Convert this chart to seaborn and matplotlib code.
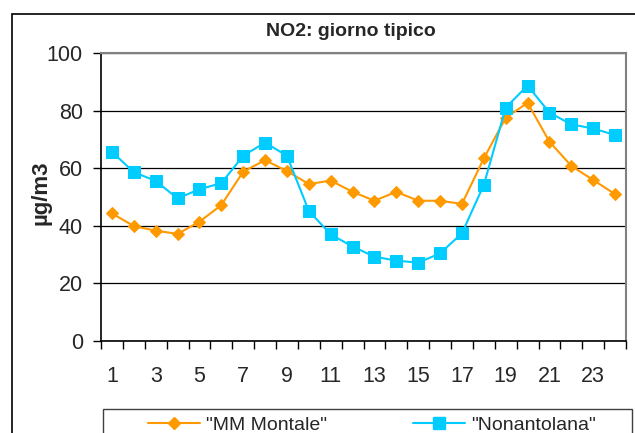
import matplotlib
matplotlib.use("Agg")
import matplotlib.pyplot as plt
import seaborn as sns
import pandas as pd
from matplotlib.patches import Rectangle
from matplotlib.lines import Line2D

hours = list(range(1, 25))
montale = [44.3, 39.9, 38.3, 37.2, 41.4, 47.2, 58.8, 62.8, 59.0, 54.5, 55.7, 51.8,
           48.7, 51.8, 48.7, 48.7, 47.6, 63.4, 77.5, 82.7, 69.2, 60.8, 55.9, 51.0]
nonantolana = [65.7, 58.6, 55.6, 49.5, 52.7, 54.8, 64.3, 68.9, 64.3, 45.2, 37.0, 32.8,
               29.3, 27.9, 27.2, 30.4, 37.4, 54.2, 81.0, 88.7, 79.3, 75.2, 73.8, 71.5]
series_names = ['"MM Montale"', '"Nonantolana"']
title = "NO2: giorno tipico"
ylabel = "µg/m3"
yticks = [0, 20, 40, 60, 80, 100]
xlabels = [str(h) for h in hours if h % 2 == 1]

sns.set_style("white")
plt.rcParams['font.family'] = ['Liberation Sans', 'DejaVu Sans']

df = pd.DataFrame({"hour": hours * 2,
                   "value": montale + nonantolana,
                   "series": [series_names[0]] * 24 + [series_names[1]] * 24})

fig = plt.figure(figsize=(6.35, 4.33), dpi=100)
ax = fig.add_axes([101/635, 1-341/433, (626-101)/635, (341-53)/433])

orange = "#FF9900"
blue = "#00CCFF"

sns.lineplot(data=df[df.series == series_names[0]], x="hour", y="value", ax=ax,
             color=orange, marker="D", markersize=6.5, markeredgecolor=orange,
             linewidth=1.5, legend=False)
sns.lineplot(data=df[df.series == series_names[1]], x="hour", y="value", ax=ax,
             color=blue, marker="s", markersize=8, markeredgecolor=blue,
             linewidth=1.5, legend=False)

ax.set_xlim(0.5, 24.5)
ax.set_ylim(0, 100)
ax.set_yticks(yticks)
ax.set_yticklabels([str(t) for t in yticks], fontsize=15.5)
ax.yaxis.grid(True, color="black", linewidth=0.9)
ax.xaxis.grid(False)
ax.set_axisbelow(True)

ax.set_xticks([h for h in hours if h % 2 == 1])
ax.set_xticklabels(xlabels, fontsize=15.5)
ax.set_xticks([h + 0.5 for h in range(0, 25)], minor=True)
ax.tick_params(axis="x", which="major", length=0, pad=18)
ax.tick_params(axis="x", which="minor", length=6, width=1, color="black", direction="out", bottom=True)
ax.tick_params(axis="y", which="major", length=6, width=1, color="black", direction="out", left=True, pad=7)

ax.set_xlabel("")
ax.set_ylabel("")

for side in ["left", "bottom"]:
    ax.spines[side].set_color("black")
    ax.spines[side].set_linewidth(1.2)
for side in ["top", "right"]:
    ax.spines[side].set_visible(True)
    ax.spines[side].set_color("#808080")
    ax.spines[side].set_linewidth(1.5)

fig.text(351/635, 1-32/433, title, ha="center", va="center", fontsize=14, fontweight="bold")
fig.text(41/635, 1-193/433, ylabel, ha="center", va="center", rotation=90, fontsize=16, fontweight="bold")

# outer chart border
fig.patches.append(Rectangle((12/635, -0.1), 1.2, 1-14/433+0.1, transform=fig.transFigure,
                             fill=False, edgecolor="black", linewidth=1.2))

# legend box
fig.patches.append(Rectangle((103/635, -0.1), (632-103)/635, 1-409/433+0.1, transform=fig.transFigure,
                             fill=False, edgecolor="#404040", linewidth=1.0))

handles = [Line2D([], [], color=orange, marker="D", markersize=6.5, linewidth=1.5),
           Line2D([], [], color=blue, marker="s", markersize=8, linewidth=1.5)]
leg = fig.legend(handles, series_names, loc="center left", bbox_to_anchor=(140/635, 1-425/433),
                 ncol=2, frameon=False, fontsize=14, handlelength=2.7, handletextpad=0.3,
                 columnspacing=4.4, borderaxespad=0)

fig.savefig("out.png", dpi=100)
